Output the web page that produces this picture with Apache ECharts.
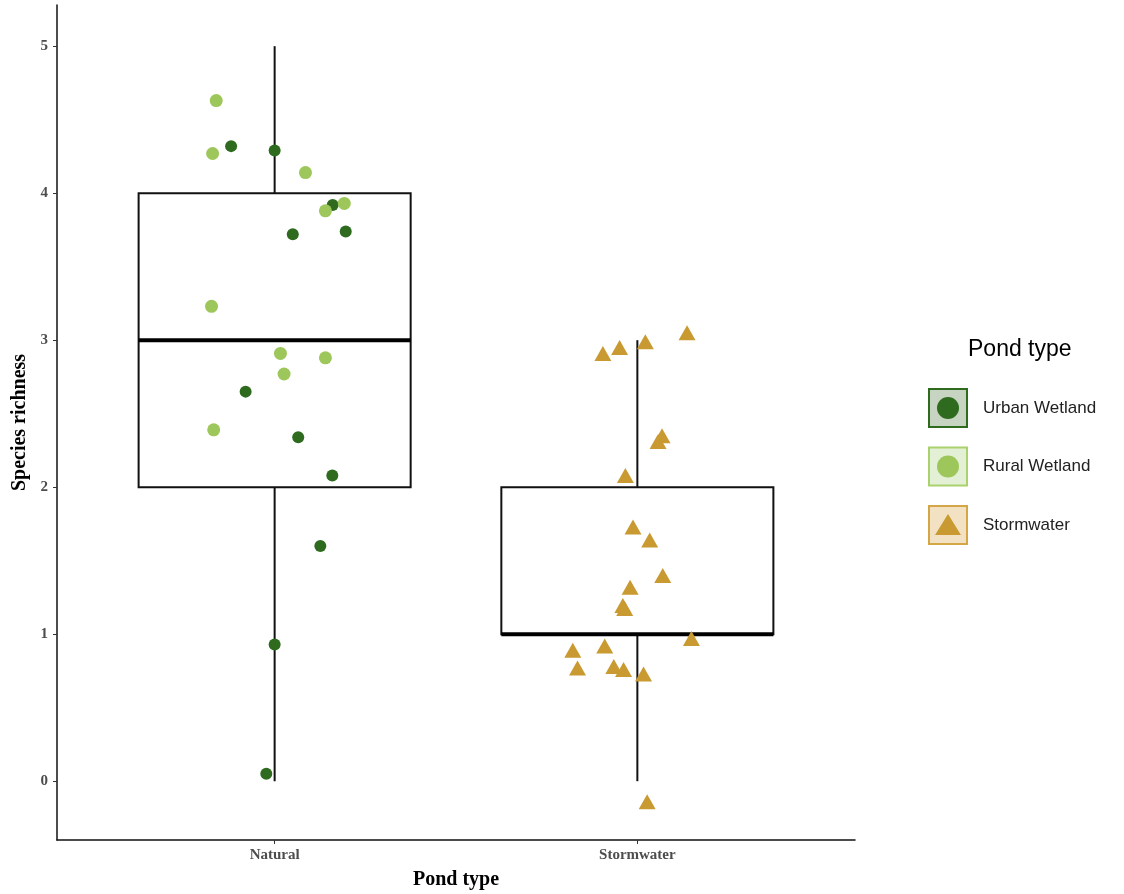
<!DOCTYPE html>
<html>
<head>
<meta charset="utf-8">
<script src="https://cdn.jsdelivr.net/npm/echarts@6/dist/echarts.min.js"></script>
<style>html,body{margin:0;padding:0;background:#fff;}#c{width:1124px;height:894px;}</style>
</head>
<body>
<div id="c"></div>
<script>
// ---- data ----
var categories = ['Natural', 'Stormwater'];
var yTicks = [0, 1, 2, 3, 4, 5];
// box stats: [position, min, q1, median, q3, max]
var boxNatural = [1, 0, 2, 3, 4, 5];
var boxStormwater = [2, 0, 1, 1, 2, 3];
// jittered points (x position on category scale, species richness)
var urbanX = [0.880, 1.000, 1.160, 1.050, 1.196, 0.920, 1.065, 1.159, 1.126, 1.000, 0.977];
var urbanY = [4.32, 4.29, 3.92, 3.72, 3.74, 2.65, 2.34, 2.08, 1.60, 0.93, 0.05];
var ruralX = [0.839, 0.829, 1.085, 1.140, 1.192, 0.826, 1.016, 1.140, 1.026, 0.832];
var ruralY = [4.63, 4.27, 4.14, 3.88, 3.93, 3.23, 2.91, 2.88, 2.77, 2.39];
var stormX = [2.137, 1.905, 1.951, 2.022, 2.068, 2.057, 1.967, 1.988, 2.034, 2.070, 1.980, 1.960, 1.965, 2.149, 1.822, 1.910, 1.835, 1.935, 1.962, 2.017, 2.027];
var stormY = [3.05, 2.91, 2.95, 2.99, 2.35, 2.31, 2.08, 1.73, 1.64, 1.40, 1.32, 1.195, 1.175, 0.97, 0.89, 0.92, 0.77, 0.78, 0.76, 0.73, -0.14];
var legendNames = ['Urban Wetland', 'Rural Wetland', 'Stormwater'];

var cUrban = '#2e6b1f', cRural = '#9dc75a', cStorm = '#c99a31';

function zip(a, b) { return a.map(function (v, i) { return [v, b[i]]; }); }

var chart = echarts.init(document.getElementById('c'), null, { renderer: 'canvas' });

var serif = '"Liberation Serif", "DejaVu Serif", serif';
var sans = '"Liberation Sans", Arial, sans-serif';

function renderBox(params, api) {
  var x = api.value(0);
  var lo = api.coord([x, api.value(1)]);
  var q1 = api.coord([x, api.value(2)]);
  var md = api.coord([x, api.value(3)]);
  var q3 = api.coord([x, api.value(4)]);
  var hi = api.coord([x, api.value(5)]);
  var w = api.size([0.75, 0])[0];
  var left = q1[0] - w / 2, right = q1[0] + w / 2;
  var st = { stroke: '#111', lineWidth: 2, fill: null };
  return {
    type: 'group',
    children: [
      { type: 'line', shape: { x1: lo[0], y1: lo[1], x2: q1[0], y2: q1[1] }, style: st },
      { type: 'line', shape: { x1: q3[0], y1: q3[1], x2: hi[0], y2: hi[1] }, style: st },
      { type: 'rect', shape: { x: left, y: q3[1], width: w, height: q1[1] - q3[1] }, style: { stroke: '#111', lineWidth: 2, fill: 'rgba(255,255,255,0)' } },
      { type: 'line', shape: { x1: left, y1: md[1], x2: right, y2: md[1] }, style: { stroke: '#000', lineWidth: 4 } }
    ]
  };
}

var legendX = 929, legendY0 = 389, legendStep = 58.5, legendBox = 38;
var legendFills = ['#c6d4c1', '#e4f0d5', '#f2e2c3'];
var legendStrokes = [cUrban, '#a9d26f', '#d4a645'];
var legendColors = [cUrban, cRural, cStorm];
var graphics = [
  { type: 'text', left: 968, top: 338, style: { text: 'Pond type', font: '23px ' + sans, fill: '#000' } }
];
legendNames.forEach(function (n, i) {
  var y = legendY0 + i * legendStep;
  graphics.push({ type: 'rect', shape: { x: legendX, y: y, width: legendBox, height: legendBox }, style: { fill: legendFills[i], stroke: legendStrokes[i], lineWidth: 2 } });
  var cx = legendX + legendBox / 2, cy = y + legendBox / 2;
  if (i < 2) {
    graphics.push({ type: 'circle', shape: { cx: cx, cy: cy, r: 11 }, style: { fill: legendColors[i] } });
  } else {
    graphics.push({ type: 'polygon', shape: { points: [[cx, cy - 11], [cx + 13, cy + 10], [cx - 13, cy + 10]] }, style: { fill: legendColors[i] } });
  }
  graphics.push({ type: 'text', x: 983, y: cy, style: { text: n, font: '17px ' + sans, fill: '#222', verticalAlign: 'middle' } });
});

var option = {
  backgroundColor: '#fff',
  animation: false,
  grid: { left: 57, right: 269, top: 5, bottom: 54, containLabel: false, outerBoundsMode: 'none' },
  xAxis: {
    type: 'value', min: 0.4, max: 2.6,
    name: 'Pond type', nameLocation: 'middle', nameGap: 30,
    nameTextStyle: { fontFamily: serif, fontWeight: 'bold', fontSize: 20, color: '#000' },
    axisLine: { show: true, onZero: false, lineStyle: { color: '#111', width: 1.5 } },
    axisTick: { show: true, length: 4, customValues: [1, 2], lineStyle: { color: '#333' } },
    axisLabel: { customValues: [1, 2], margin: 8, formatter: function (v) { return categories[Math.round(v) - 1] || ''; },
      fontFamily: serif, fontWeight: 'bold', fontSize: 15, color: '#4d4d4d' },
    splitLine: { show: false }
  },
  yAxis: {
    type: 'value', min: -0.4, max: 5.28,
    name: 'Species richness', nameLocation: 'middle', nameGap: 24, nameRotate: 90,
    nameTextStyle: { fontFamily: serif, fontWeight: 'bold', fontSize: 20, color: '#000' },
    axisLine: { show: true, onZero: false, lineStyle: { color: '#111', width: 1.5 } },
    axisTick: { show: true, length: 4, customValues: yTicks, lineStyle: { color: '#333' } },
    axisLabel: { customValues: yTicks, margin: 9, fontFamily: serif, fontWeight: 'bold', fontSize: 15, color: '#4d4d4d' },
    splitLine: { show: false }
  },
  graphic: graphics,
  series: [
    { type: 'custom', name: 'box', renderItem: renderBox, z: 1,
      encode: { x: 0, y: [1, 2, 3, 4, 5] },
      data: [boxNatural, boxStormwater] },
    { type: 'scatter', name: legendNames[0], data: zip(urbanX, urbanY), symbol: 'circle', symbolSize: 12, z: 3,
      itemStyle: { color: cUrban, opacity: 1 } },
    { type: 'scatter', name: legendNames[1], data: zip(ruralX, ruralY), symbol: 'circle', symbolSize: 13, z: 3,
      itemStyle: { color: cRural, opacity: 1 } },
    { type: 'scatter', name: legendNames[2], data: zip(stormX, stormY), symbol: 'triangle', symbolSize: [17, 15], z: 3,
      itemStyle: { color: cStorm, opacity: 1 } }
  ]
};
chart.setOption(option);
</script>
</body>
</html>
